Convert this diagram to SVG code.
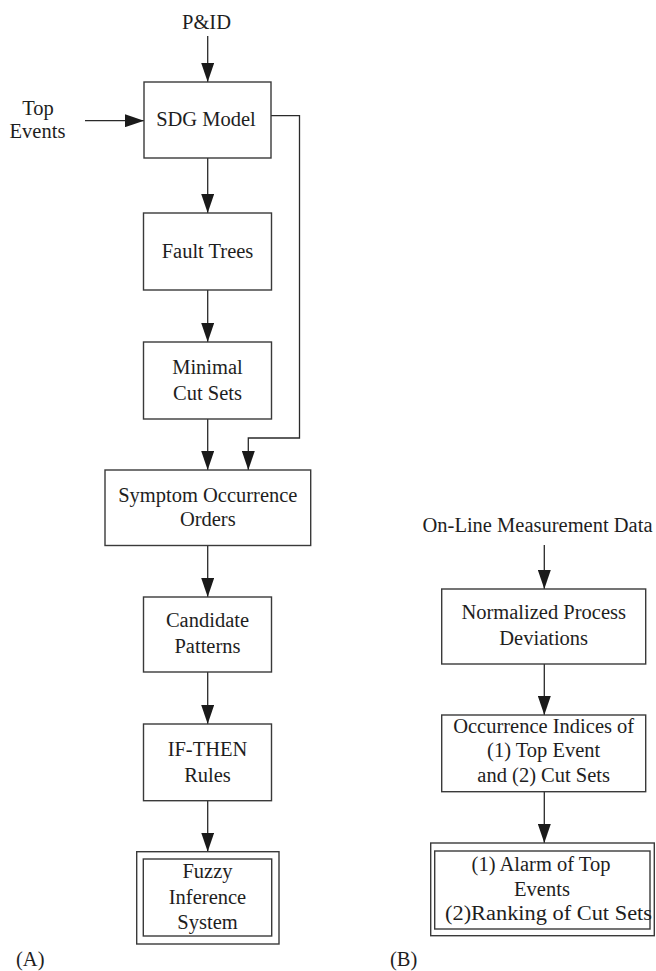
<svg xmlns="http://www.w3.org/2000/svg" width="656" height="971" viewBox="0 0 656 971">
  <style>
    .box { fill: #ffffff; stroke: #3a3a3a; stroke-width: 1.4; }
    .wire { fill: none; stroke: #2a2a2a; stroke-width: 1.3; }
    .lbl { font-family: "Liberation Serif", "Times New Roman", serif; font-size: 20.5px; fill: #1e1e1e; text-anchor: middle; }
    .tag { font-family: "Liberation Serif", "Times New Roman", serif; font-size: 20.5px; fill: #1e1e1e; }
  </style>
  <defs>
    <marker id="arrow" viewBox="0 0 19 13" refX="19" refY="6.5" markerWidth="19" markerHeight="13" markerUnits="userSpaceOnUse" orient="auto">
      <path d="M0,0 L19,6.5 L0,13 Z" fill="#1a1a1a"/>
    </marker>
  </defs>
  <rect width="656" height="971" fill="#ffffff"/>

  <!-- connectors -->
  <g id="connectors">
    <line class="wire" x1="207.7" y1="36" x2="207.7" y2="82" marker-end="url(#arrow)"/>
    <line class="wire" x1="85" y1="120.7" x2="144" y2="120.7" marker-end="url(#arrow)"/>
    <line class="wire" x1="207.7" y1="158" x2="207.7" y2="213" marker-end="url(#arrow)"/>
    <line class="wire" x1="207.7" y1="290" x2="207.7" y2="342" marker-end="url(#arrow)"/>
    <line class="wire" x1="207.7" y1="419" x2="207.7" y2="470" marker-end="url(#arrow)"/>
    <polyline class="wire" points="271,115.7 299.5,115.7 299.5,438 248.3,438 248.3,470" marker-end="url(#arrow)"/>
    <line class="wire" x1="207.7" y1="545.5" x2="207.7" y2="597" marker-end="url(#arrow)"/>
    <line class="wire" x1="207.7" y1="672" x2="207.7" y2="724" marker-end="url(#arrow)"/>
    <line class="wire" x1="207.7" y1="800.7" x2="207.7" y2="851.7" marker-end="url(#arrow)"/>
    <line class="wire" x1="544.3" y1="545" x2="544.3" y2="589" marker-end="url(#arrow)"/>
    <line class="wire" x1="544.3" y1="664" x2="544.3" y2="715" marker-end="url(#arrow)"/>
    <line class="wire" x1="544.3" y1="792" x2="544.3" y2="843" marker-end="url(#arrow)"/>
  </g>

  <!-- inputs -->
  <g id="pid">
    <text class="lbl" x="206.5" y="29">P&amp;ID</text>
  </g>
  <g id="top-events">
    <text class="lbl" x="38" y="115">Top</text>
    <text class="lbl" x="37.5" y="138">Events</text>
  </g>

  <!-- chain (A) -->
  <g id="sdg-model">
    <rect class="box" x="144" y="82" width="127" height="76"/>
    <text class="lbl" x="206" y="126">SDG Model</text>
  </g>
  <g id="fault-trees">
    <rect class="box" x="143.5" y="213" width="128" height="77"/>
    <text class="lbl" x="207.5" y="258">Fault Trees</text>
  </g>
  <g id="minimal-cut-sets">
    <rect class="box" x="143.5" y="342" width="128" height="77"/>
    <text class="lbl" x="207.5" y="374">Minimal</text>
    <text class="lbl" x="207.5" y="400">Cut Sets</text>
  </g>
  <g id="symptom-orders">
    <rect class="box" x="105" y="470" width="205.7" height="75.5"/>
    <text class="lbl" x="207.8" y="502">Symptom Occurrence</text>
    <text class="lbl" x="207.8" y="526">Orders</text>
  </g>
  <g id="candidate-patterns">
    <rect class="box" x="143.5" y="597" width="128" height="75"/>
    <text class="lbl" x="207.5" y="627">Candidate</text>
    <text class="lbl" x="207.5" y="653">Patterns</text>
  </g>
  <g id="if-then-rules">
    <rect class="box" x="143.5" y="724" width="128" height="76.7"/>
    <text class="lbl" x="207.5" y="756">IF-THEN</text>
    <text class="lbl" x="207.5" y="782">Rules</text>
  </g>
  <g id="fuzzy-inference">
    <rect class="box" x="136.7" y="851.7" width="142.3" height="92.3"/>
    <rect class="box" x="143.3" y="859" width="128.4" height="77"/>
    <text class="lbl" x="207.5" y="878">Fuzzy</text>
    <text class="lbl" x="207.5" y="904">Inference</text>
    <text class="lbl" x="207.5" y="929">System</text>
  </g>

  <!-- chain (B) -->
  <g id="online-data">
    <text class="lbl" x="537.5" y="531.7">On-Line Measurement Data</text>
  </g>
  <g id="normalized-deviations">
    <rect class="box" x="441.7" y="589" width="204" height="75"/>
    <text class="lbl" x="543.7" y="619">Normalized Process</text>
    <text class="lbl" x="543.7" y="645">Deviations</text>
  </g>
  <g id="occurrence-indices">
    <rect class="box" x="441.7" y="715" width="204" height="76.7"/>
    <text class="lbl" x="543.7" y="733">Occurrence Indices of</text>
    <text class="lbl" x="543.7" y="757">(1) Top Event</text>
    <text class="lbl" x="543.7" y="782">and (2) Cut Sets</text>
  </g>
  <g id="alarm-ranking">
    <rect class="box" x="430.7" y="843" width="223.6" height="92.7"/>
    <rect class="box" x="434.7" y="851" width="215.3" height="78"/>
    <text class="lbl" x="541" y="871">(1) Alarm of Top</text>
    <text class="lbl" x="542" y="896">Events</text>
    <text class="lbl" x="548.5" y="920" textLength="207" lengthAdjust="spacingAndGlyphs">(2)Ranking of Cut Sets</text>
  </g>

  <!-- panel tags -->
  <g id="panel-a">
    <text class="tag" x="16" y="966">(A)</text>
  </g>
  <g id="panel-b">
    <text class="tag" x="390" y="966">(B)</text>
  </g>
</svg>
